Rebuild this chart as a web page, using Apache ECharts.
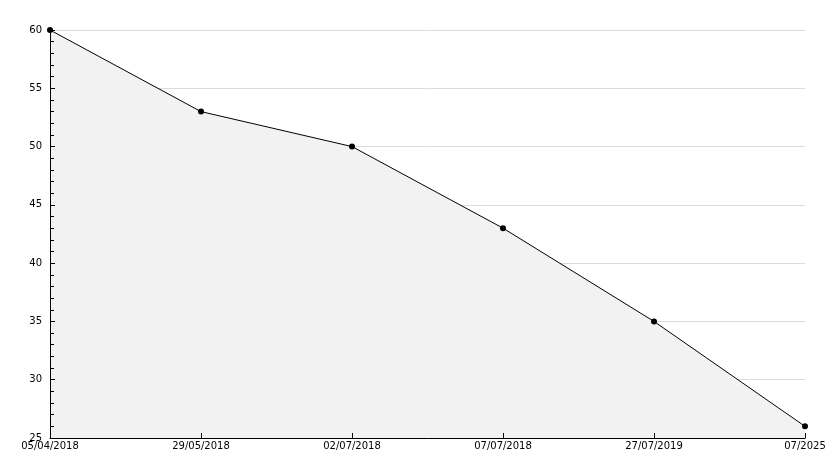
<!DOCTYPE html>
<html><head><meta charset="utf-8">
<script src="https://cdn.jsdelivr.net/npm/echarts@6/dist/echarts.min.js"></script>
<style>html,body{margin:0;padding:0;background:#fff}#c{width:834px;height:468px}</style>
</head><body><div id="c"></div>
<script>
var categories = ['05/04/2018','29/05/2018','02/07/2018','07/07/2018','27/07/2019','07/2025'];
var values = [60, 53, 50, 43, 35, 26];
var yTicks = [25, 30, 35, 40, 45, 50, 55, 60];

var yMin = yTicks[0], yMax = yTicks[yTicks.length-1];
var chart = echarts.init(document.getElementById('c'), null, {renderer:'canvas'});
chart.setOption({
  animation: false,
  backgroundColor: '#ffffff',
  grid: {left: 50, right: 29, top: 30, bottom: 30, containLabel: false},
  xAxis: {
    type: 'category', data: categories, boundaryGap: false, z: 10,
    axisLine: {show: true, onZero: false, lineStyle: {color: '#000', width: 1}},
    axisTick: {show: true, inside: true, length: 5, lineStyle: {color: '#000'}},
    axisLabel: {color: '#000', fontFamily: 'DejaVu Sans', fontSize: 10, margin: 3, interval: 0},
    splitLine: {show: false}
  },
  yAxis: [{
    type: 'value', min: yMin, max: yMax, interval: 5, z: 0,
    axisLine: {show: false},
    axisTick: {show: false},
    axisLabel: {color: '#000', fontFamily: 'DejaVu Sans', fontSize: 10, margin: 8},
    splitLine: {show: true, lineStyle: {color: '#dcdcdc', width: 1}}
  }, {
    type: 'value', min: yMin, max: yMax, interval: 5, z: 10, position: 'left',
    axisLine: {show: true, onZero: false, lineStyle: {color: '#000', width: 1}},
    axisTick: {show: true, inside: true, length: 5, lineStyle: {color: '#000'}},
    minorTick: {show: true, splitNumber: 5, length: 4, lineStyle: {color: '#000'}},
    axisLabel: {show: false},
    splitLine: {show: false}
  }],
  series: [{
    type: 'line', data: values, yAxisIndex: 0,
    symbol: 'circle', symbolSize: 6, z: 5,
    itemStyle: {color: '#000'},
    lineStyle: {color: '#000', width: 1},
    areaStyle: {color: '#f2f2f2', opacity: 1, origin: 'start'}
  }]
});
</script></body></html>
